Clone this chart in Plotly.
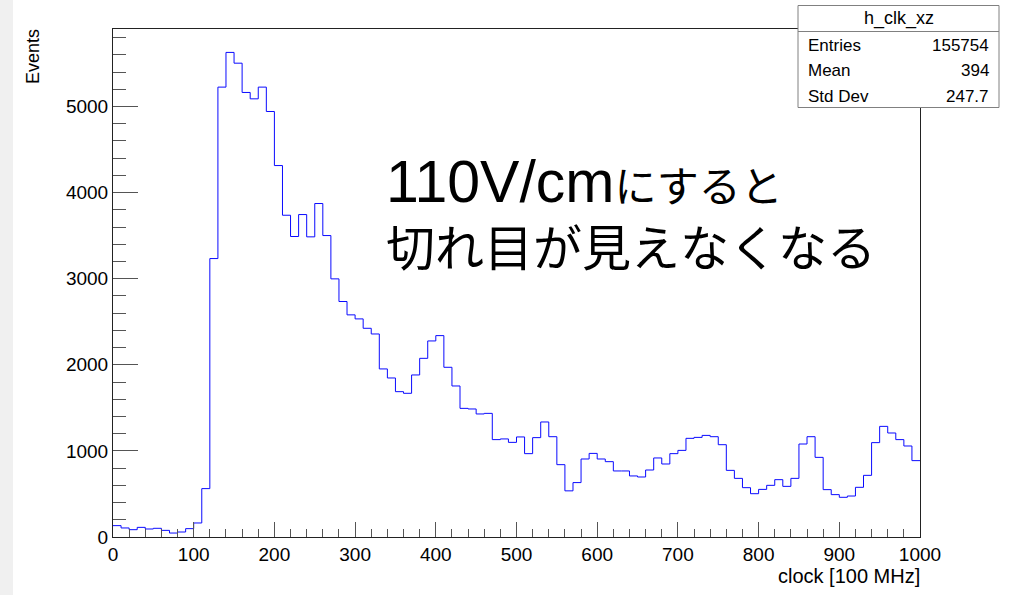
import numpy as np
import plotly.graph_objects as go

# ---- data ----
bin_low = 0
bin_width = 10
counts = [
    132, 105, 85, 112, 93, 101, 77, 46, 58, 97,
    163, 562, 3234, 5225, 5628, 5503, 5163, 5089, 5225, 4942,
    4314, 3737, 3490, 3745, 3486, 3873, 3501, 2998, 2735, 2580,
    2533, 2424, 2358, 1952, 1847, 1688, 1669, 1882, 2075, 2277,
    2339, 1971, 1754, 1494, 1487, 1429, 1436, 1131, 1139, 1099,
    1162, 968, 1154, 1336, 1165, 840, 536, 632, 906, 971,
    906, 875, 767, 767, 709, 697, 778, 918, 848, 968,
    1006, 1146, 1157, 1180, 1165, 1072, 774, 681, 573, 503,
    553, 600, 666, 588, 681, 1080, 1165, 925, 550, 492,
    461, 476, 577, 716, 1096, 1285, 1208, 1131, 1057, 887,
]
x_ticks = [0, 100, 200, 300, 400, 500, 600, 700, 800, 900, 1000]
y_ticks = [0, 1000, 2000, 3000, 4000, 5000]
hist_name = "h_clk_xz"
stats_labels = ["Entries", "Mean", "Std Dev"]
stats_values = ["155754", "394", "247.7"]
x_title = "clock [100 MHz]"
y_title = "Events"
note_line1_latin = "110V/cm"
note_line1_jp = "にすると"
note_line2 = "切れ目が見えなくなる"

# ---- geometry ----
W, H = 1013, 595
L, R, T, B = 113, 93, 29, 58
PW, PH = W - L - R, H - T - B


def px(xp):
    return (xp - L) / PW


def py(yp):
    return (H - B - yp) / PH


edges = bin_low + bin_width * np.arange(len(counts) + 1)
xs = list(edges)
ys = list(counts) + [counts[-1]]

FONT = "Liberation Sans, Arial, Helvetica, sans-serif"
JP = "Noto Sans CJK JP"

fig = go.Figure()
fig.add_trace(go.Scatter(
    x=xs, y=ys, mode="lines", line=dict(color="#0a0aff", width=1, shape="hv"),
    hoverinfo="skip", showlegend=False,
))

fig.update_layout(
    width=W, height=H, autosize=False,
    margin=dict(l=L, r=R, t=T, b=B, pad=0),
    paper_bgcolor="white", plot_bgcolor="white",
    font=dict(family=FONT, color="black", size=19),
    showlegend=False,
)
fig.update_xaxes(
    range=[0, 1000], tickvals=x_ticks, ticktext=[str(v) for v in x_ticks],
    ticks="inside", ticklen=15, tickcolor="#555555", tickwidth=1,
    minor=dict(dtick=20, ticks="inside", ticklen=8, tickcolor="#555555", tickwidth=1),
    showline=True, linecolor="#222222", linewidth=1, mirror=True,
    showgrid=False, zeroline=False, tickfont=dict(size=19),
    ticklabelstandoff=0,
)
fig.update_yaxes(
    range=[0, 5900], tickvals=y_ticks, ticktext=[str(v) for v in y_ticks],
    ticks="inside", ticklen=25, tickcolor="#555555", tickwidth=1,
    minor=dict(dtick=200, ticks="inside", ticklen=13, tickcolor="#555555", tickwidth=1),
    showline=True, linecolor="#222222", linewidth=1, mirror=True,
    showgrid=False, zeroline=False, tickfont=dict(size=19),
    ticklabelstandoff=0,
)

shapes = [
    # grey strip at left edge of the canvas
    dict(type="rect", xref="paper", yref="paper", x0=px(0), x1=px(13), y0=py(H), y1=py(0),
         fillcolor="#f0f0f0", line=dict(width=0), layer="below"),
    # stats box
    dict(type="rect", xref="paper", yref="paper", x0=px(798), x1=px(999), y0=py(107.5), y1=py(5.5),
         fillcolor="white", line=dict(color="#808080", width=1), layer="above"),
    dict(type="line", xref="paper", yref="paper", x0=px(798), x1=px(999), y0=py(31.5), y1=py(31.5),
         line=dict(color="#808080", width=1), layer="above"),
]

ann = []
# axis titles
ann.append(dict(xref="paper", yref="paper", x=px(33), y=py(57), text=y_title, textangle=-90,
                showarrow=False, xanchor="center", yanchor="middle", font=dict(size=18)))
ann.append(dict(xref="paper", yref="paper", x=px(922), y=py(576), text=x_title,
                showarrow=False, xanchor="right", yanchor="middle", font=dict(size=20)))
# stats box text
ann.append(dict(xref="paper", yref="paper", x=px(899), y=py(18.5), text=hist_name,
                showarrow=False, xanchor="center", yanchor="middle", font=dict(size=18)))
for i, (lab, val) in enumerate(zip(stats_labels, stats_values)):
    yy = 45 + 25.5 * i
    ann.append(dict(xref="paper", yref="paper", x=px(806), y=py(yy), text=lab,
                    showarrow=False, xanchor="left", yanchor="middle", font=dict(size=17)))
    ann.append(dict(xref="paper", yref="paper", x=px(991), y=py(yy), text=val,
                    showarrow=False, xanchor="right", yanchor="middle", font=dict(size=17)))
# big note text (two lines in one annotation)
note_text = ("<span style='font-family:Liberation Sans;font-size:59px'>" + note_line1_latin
             + "</span><span style='font-size:42px'>" + note_line1_jp + "</span><br>"
             + note_line2)
ann.append(dict(xref="paper", yref="paper", x=px(384), y=py(147), text=note_text,
                showarrow=False, xanchor="left", yanchor="top", align="left",
                font=dict(size=49, family=JP)))

fig.update_layout(shapes=shapes, annotations=ann)
fig.write_html("out.html", post_script="document.body.style.margin='0';",
               config={"displayModeBar": False})
